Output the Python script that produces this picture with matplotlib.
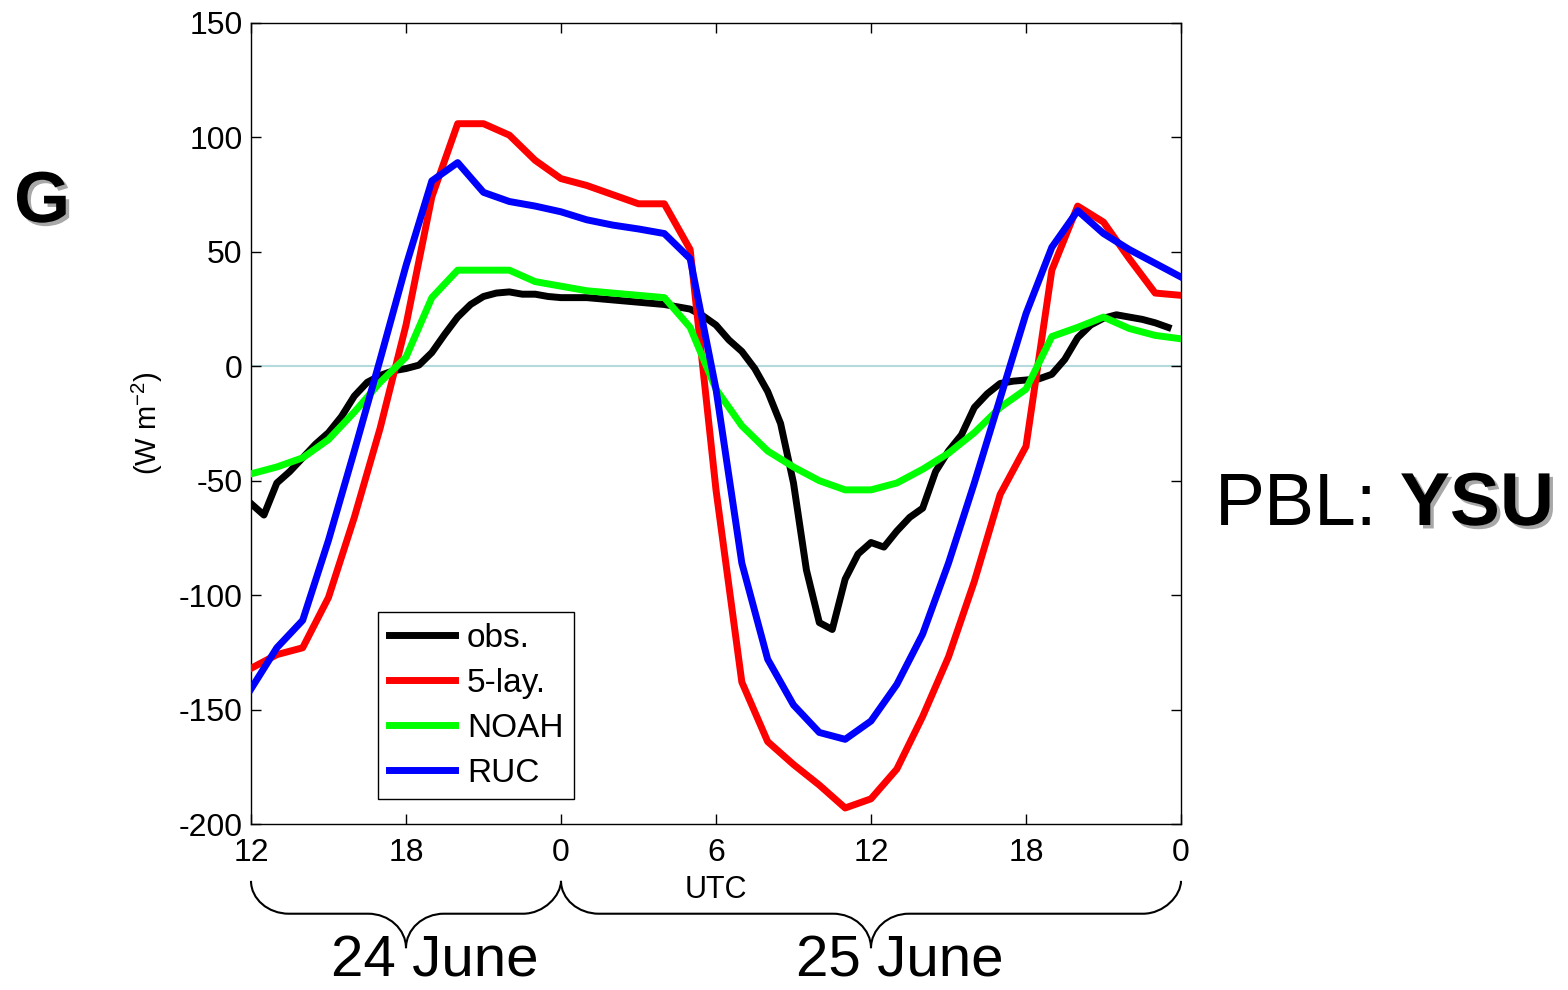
import numpy as np
import matplotlib.pyplot as plt
import matplotlib.patheffects as pe
from matplotlib.path import Path
from matplotlib.patches import PathPatch
from matplotlib.transforms import blended_transform_factory

plt.rcParams["font.family"] = ["Liberation Sans", "DejaVu Sans"]
plt.rcParams["axes.unicode_minus"] = False

# hours since 12 UTC 24 June
hours_model = np.arange(0, 37)
hours_obs = np.arange(0, 36, 0.5)

obs = [-60, -65, -51, -46, -40, -34, -29, -22, -13, -7, -4, -2,
       -1, 0.5, 6, 14, 21.5, 27, 30.5, 32, 32.5, 31.5, 31.5, 30.5,
       30, 30, 30, 29.5, 29, 28.5, 28, 27.5, 27, 26, 25, 22,
       18, 11.5, 6.5, -1, -11, -25, -51, -89, -112, -115, -93, -82,
       -77, -79, -72, -66, -62, -46, -37, -30, -18, -12, -7.5, -6.5,
       -6, -5.5, -3.5, 3, 12.5, 18, 21, 22.5, 21.5, 20.5, 19, 17]

five_lay = [-132, -126, -123, -101, -66, -27, 18, 74, 106, 106, 101, 90,
            82, 79, 75, 71, 71, 51, -54, -138, -164, -174, -183, -193,
            -189, -176, -153, -127, -94, -56, -35, 42, 70, 63, 47, 32, 31]

noah = [-47, -44, -40, -32, -20, -7, 4, 30, 42, 42, 42, 37,
        35, 33, 32, 31, 30, 17, -10, -26, -37, -44, -50, -54,
        -54, -51, -45, -38, -29, -18, -10, 13, 17, 21.5, 16.5, 13.5, 12]

ruc = [-141, -123, -111, -76, -37, 3, 44, 81, 89, 76, 72, 70,
       67.5, 64, 61.7, 60, 58, 47, -10, -86, -128, -148, -160, -163,
       -155, -139, -117, -86, -51, -14, 23, 52, 68, 58, 51, 45, 39]

xtick_pos = [0, 6, 12, 18, 24, 30, 36]
xtick_labels = ["12", "18", "0", "6", "12", "18", "0"]
day_bounds = [(0, 12), (12, 36)]
day_labels = ["24 June", "25 June"]


def draw_brace(ax, x0, x1, r=1.47, y_top=-0.071, y_mid=-0.112, y_tip=-0.155):
    # curly brace below the axis, x in hours, y in axes fraction
    k = 0.552
    xm = 0.5 * (x0 + x1)
    verts = [
        (x0, y_top),
        (x0, y_top + k * (y_mid - y_top)), (x0 + r - k * r, y_mid), (x0 + r, y_mid),
        (xm - r, y_mid),
        (xm - r + k * r, y_mid), (xm, y_tip - k * (y_tip - y_mid)), (xm, y_tip),
        (xm, y_tip - k * (y_tip - y_mid)), (xm + r - k * r, y_mid), (xm + r, y_mid),
        (x1 - r, y_mid),
        (x1 - r + k * r, y_mid), (x1, y_mid + k * (y_top - y_mid)), (x1, y_top),
    ]
    codes = [Path.MOVETO,
             Path.CURVE4, Path.CURVE4, Path.CURVE4,
             Path.LINETO,
             Path.CURVE4, Path.CURVE4, Path.CURVE4,
             Path.CURVE4, Path.CURVE4, Path.CURVE4,
             Path.LINETO,
             Path.CURVE4, Path.CURVE4, Path.CURVE4]
    trans = blended_transform_factory(ax.transData, ax.transAxes)
    patch = PathPatch(Path(verts, codes), facecolor="none", edgecolor="black",
                      lw=1.5, transform=trans, clip_on=False)
    ax.add_patch(patch)
    return xm


fig = plt.figure(figsize=(15.68, 9.9), dpi=100)
ax = fig.add_axes([251 / 1568, 166 / 990, 930 / 1568, 801 / 990])

ax.axhline(0, color="#b4dade", lw=1.5, zorder=1)
ax.plot(hours_obs, obs, color="black", lw=5, label="obs.", zorder=3)
ax.plot(hours_model, five_lay, color="#ff0000", lw=5, label="5-lay.", zorder=3)
ax.plot(hours_model, noah, color="#00ff00", lw=5, label="NOAH", zorder=3)
ax.plot(hours_model, ruc, color="#0000ff", lw=5, label="RUC", zorder=3)

ax.set_xlim(0, 36)
ax.set_ylim(-200, 150)
ax.set_xticks(xtick_pos)
ax.set_xticklabels(xtick_labels)
ax.set_yticks(np.arange(-200, 151, 50))
ax.tick_params(direction="in", length=7, width=1, labelsize=23,
               top=True, right=True)
ax.tick_params(axis="x", pad=10)
ax.tick_params(axis="y", pad=6)
for sp in ax.spines.values():
    sp.set_linewidth(1)

ax.set_xlabel("UTC", fontsize=22, labelpad=5)
ax.set_ylabel(r"(W m$^{\mathregular{-2}}$)", fontsize=21, labelpad=10)

leg = ax.legend(loc="lower left", bbox_to_anchor=(0.1366, 0.031),
                borderaxespad=0, fontsize=24, handlelength=2.0,
                handletextpad=0.35, labelspacing=0.42, borderpad=0.32,
                fancybox=False, framealpha=1, edgecolor="black")
leg.get_frame().set_linewidth(1)
for line in leg.get_lines():
    line.set_linewidth(5)

trans = blended_transform_factory(ax.transData, ax.transAxes)
for (x0, x1), lab in zip(day_bounds, day_labels):
    xm = draw_brace(ax, x0, x1)
    ax.text(xm + 1.1, -0.191, lab, transform=trans, ha="center",
            va="baseline", fontsize=42, clip_on=False)

shadow = [pe.withSimplePatchShadow(offset=(2.5, -2.5),
                                   shadow_rgbFace="#a8a8a8", alpha=1)]
fig.text(14 / 1568, 1 - 222 / 990, "G", fontsize=52, fontweight="bold",
         va="baseline", ha="left", path_effects=shadow)

t1 = fig.text(1215 / 1568, 1 - 525 / 990, "PBL:", fontsize=54,
              va="baseline", ha="left")
ax.annotate("YSU", xy=(1, 0), xycoords=t1, xytext=(16, 0),
            textcoords="offset points", fontsize=54, fontweight="bold",
            ha="left", va="bottom", path_effects=shadow,
            annotation_clip=False)

fig.savefig("out.png", dpi=100)
